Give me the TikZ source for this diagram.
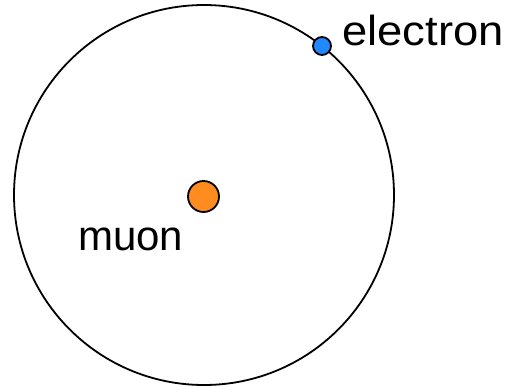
\documentclass[tikz,border=0pt]{standalone}
\usepackage{fontspec}
\setmainfont{Liberation Sans}
\definecolor{muonorange}{HTML}{FF8C1E}
\definecolor{elecblue}{HTML}{2288FF}
\begin{document}
\begin{tikzpicture}[x=1pt,y=-1pt,
  orbit/.style={draw=black,line width=1.8pt,fill=none,circle,inner sep=0pt,minimum size=380pt},
  particle/.style={draw=black,line width=1.8pt,circle,inner sep=0pt},
  label/.style={inner sep=0pt,anchor=base west,font=\fontsize{42}{50}\selectfont}]
\useasboundingbox (0,0) rectangle (508,386);
\node[orbit] (orbit) at (204,195) {};
\node[particle,fill=muonorange,minimum size=31pt] (muon) at (203.5,196.5) {};
\node[particle,fill=elecblue,minimum size=18pt] (electron) at (322,46) {};
\node[label] (elabel) at (342,45) {\scalebox{1.08}[1]{electron}};
\node[label] (mlabel) at (78,250) {muon};
\end{tikzpicture}
\end{document}
